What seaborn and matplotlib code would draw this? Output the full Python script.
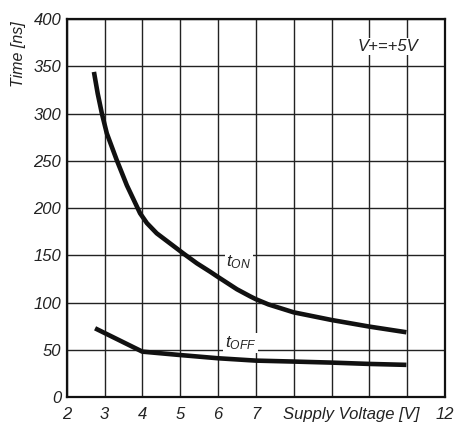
import matplotlib
matplotlib.use("Agg")
import matplotlib.pyplot as plt
import seaborn as sns
import pandas as pd

# Data
ton_v = [2.72, 2.82, 2.93, 3.06, 3.32, 3.59, 3.94, 4.12, 4.38, 4.73, 5.08, 5.44, 5.79, 6.0, 6.5, 6.85, 7.0, 7.33, 8.0, 9.0, 10.0, 10.98]
ton_t = [344, 321, 300, 279, 251, 224, 194.4, 184, 173.2, 162.6, 152, 141.5, 132.6, 127, 114, 106.5, 103.5, 98, 89.6, 81.5, 74.5, 68.5]
toff_v = [2.75, 4.0, 5.0, 6.0, 7.0, 8.0, 9.0, 10.0, 10.98]
toff_t = [72.7, 48, 44.4, 41, 38.5, 37.5, 36.4, 35, 34]

x_ticks = [2, 3, 4, 5, 6, 7, 8, 9, 10, 11, 12]
x_labels = ["2", "3", "4", "5", "6", "7", "", "", "", "", "12"]
y_ticks = [0, 50, 100, 150, 200, 250, 300, 350, 400]

sns.set_style("white")
plt.rcParams['font.family'] = ['Liberation Sans', 'DejaVu Sans']
plt.rcParams['mathtext.fontset'] = 'custom'
plt.rcParams['mathtext.rm'] = 'Liberation Sans:italic'
plt.rcParams['mathtext.it'] = 'Liberation Sans:italic'

df = pd.DataFrame({
    "V": ton_v + toff_v,
    "t": ton_t + toff_t,
    "s": ["ON"] * len(ton_v) + ["OFF"] * len(toff_v),
})

fig = plt.figure(figsize=(4.57, 4.23), dpi=100)
ax = fig.add_axes([66.7 / 457, 1 - 397 / 423, (445 - 66.7) / 457, (397 - 19) / 423])

ax.set_xlim(2, 12)
ax.set_ylim(0, 400)
ax.set_xticks(x_ticks)
ax.set_xticklabels(x_labels)
ax.set_yticks(y_ticks)
ax.set_yticklabels([str(v) for v in y_ticks])
ax.grid(True, color="#222222", linewidth=1.0)
ax.set_axisbelow(True)
ax.tick_params(axis="both", length=0, labelsize=12, colors="#222222")
ax.tick_params(axis="x", pad=7)
ax.tick_params(axis="y", pad=4)
for lab in ax.get_xticklabels() + ax.get_yticklabels():
    lab.set_fontstyle("italic")
for sp in ax.spines.values():
    sp.set_color("#111111")
    sp.set_linewidth(1.6)

sns.lineplot(data=df, x="V", y="t", hue="s", palette={"ON": "#111111", "OFF": "#111111"},
             linewidth=3.3, legend=False, ax=ax, sort=False, estimator=None, zorder=5)
for ln in ax.lines:
    ln.set_solid_joinstyle("round")
    ln.set_solid_capstyle("butt")
ax.set_xlabel("")
ax.set_ylabel("")

bb = dict(facecolor="white", edgecolor="none", pad=1.0)
ax.text(6.22, 138, r"$t_{ON}$", fontsize=12.5, color="#222222", ha="left", va="baseline", bbox=bb, zorder=4)
ax.text(6.18, 53, r"$t_{OFF}$", fontsize=12.5, color="#222222", ha="left", va="baseline", bbox=bb, zorder=4)
ax.text(10.48, 371, "V+=+5V", fontsize=12, fontstyle="italic", color="#222222",
        ha="center", va="center", bbox=dict(facecolor="white", edgecolor="none", pad=0.5), zorder=4)
ax.text(9.52, -0.0265, "Supply Voltage [V]", transform=ax.get_xaxis_transform(),
        fontsize=12, fontstyle="italic", color="#222222", ha="center", va="top")
fig.text(19 / 457, 1 - 54 / 423, "Time [ns]", rotation=90, fontsize=11.5, fontstyle="italic",
         color="#222222", ha="center", va="center")

fig.savefig("out.png", dpi=100)
